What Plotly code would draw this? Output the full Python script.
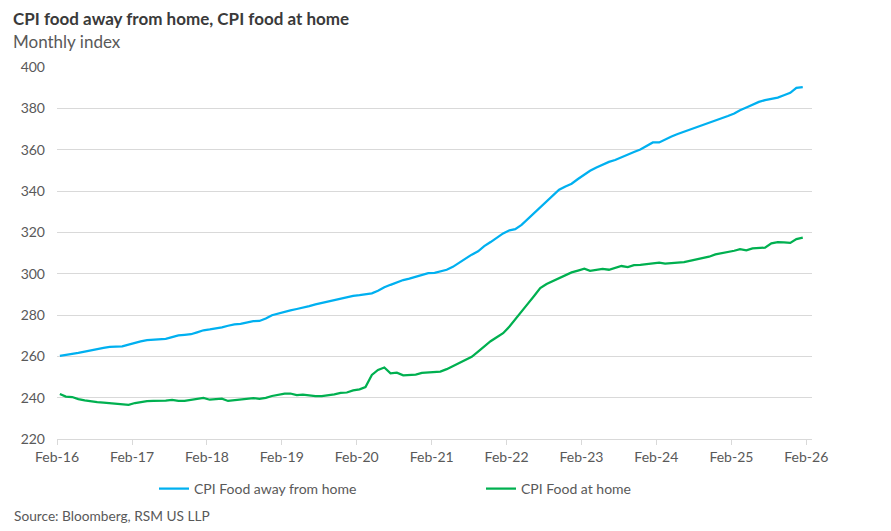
import pandas as pd
import plotly.graph_objects as go

# Monthly dates (Feb 2016 - Jan 2026), plotted mid-month
dates = pd.date_range("2016-02-01", periods=120, freq="MS") + pd.Timedelta(days=14)

food_away = [
    260.2, 260.8, 261.3, 261.7, 262.3, 263.0, 263.6, 264.1, 264.6, 264.6, 264.8, 265.7,
    266.6, 267.2, 267.8, 268.1, 268.2, 268.5, 269.3, 270.1, 270.4, 270.7, 271.6, 272.6,
    273.0, 273.4, 274.0, 274.8, 275.5, 275.7, 276.2, 277.0, 277.1, 278.3, 279.9, 280.8,
    281.6, 282.2, 282.9, 283.5, 284.3, 285.1, 285.8, 286.5, 287.0, 287.6, 288.5, 289.3,
    289.6, 290.0, 290.5, 291.7, 293.4, 294.6, 295.8, 296.9, 297.6, 298.4, 299.4, 300.3,
    300.4, 301.0, 301.9, 303.3, 305.4, 307.5, 309.2, 310.8, 313.3, 315.3, 317.3, 319.5,
    321.0, 321.5, 323.6, 326.4, 329.4, 332.3, 335.1, 338.0, 340.6, 342.2, 343.5, 345.8,
    348.1, 349.8, 351.4, 352.9, 354.1, 355.0, 356.4, 357.8, 358.9, 360.1, 361.6, 363.5,
    363.5, 365.0, 366.4, 367.6, 368.7, 369.5, 370.6, 371.9, 372.8, 373.8, 375.0, 376.3,
    377.5, 379.1, 380.4, 381.8, 383.1, 384.0, 384.7, 385.2, 386.3, 387.5, 389.9, 390.3,
]

food_home = [
    241.8, 240.5, 240.3, 239.3, 238.7, 238.1, 237.8, 237.6, 237.4, 237.1, 237.0, 236.5,
    237.4, 237.9, 238.3, 238.5, 238.5, 238.6, 238.9, 238.4, 238.5, 238.9, 239.2, 239.9,
    239.0, 239.1, 239.5, 238.4, 238.8, 239.2, 239.5, 239.8, 239.4, 239.9, 240.8, 241.4,
    242.0, 242.0, 241.2, 241.5, 241.1, 240.8, 240.8, 241.1, 241.6, 242.3, 242.5, 243.5,
    244.0, 245.1, 251.0, 253.4, 254.6, 251.8, 252.1, 250.8, 251.0, 251.2, 252.0, 252.1,
    252.4, 252.6, 253.8, 255.2, 256.7, 258.2, 259.8, 262.3, 264.9, 267.3, 269.2, 271.2,
    274.4, 278.0, 281.5, 285.4, 289.2, 293.0, 295.0, 296.4, 297.8, 299.5, 300.6, 301.5,
    302.4, 301.4, 301.8, 302.3, 301.9, 302.9, 303.7, 303.2, 304.1, 304.2, 304.6, 305.1,
    305.3, 304.9, 305.0, 305.4, 305.6, 306.2, 306.7, 307.4, 308.2, 309.3, 309.8, 310.5,
    311.1, 311.9, 311.3, 312.2, 312.3, 312.6, 314.7, 315.3, 315.1, 314.9, 316.7, 317.4,
]

series_names = ["CPI Food away from home", "CPI Food at home"]
tick_dates = pd.date_range("2016-02-01", periods=11, freq="12MS")
tick_labels = ["Feb-16", "Feb-17", "Feb-18", "Feb-19", "Feb-20", "Feb-21",
               "Feb-22", "Feb-23", "Feb-24", "Feb-25", "Feb-26"]

FONT = "Lato"
GREY = "#595959"
GRID = "#d9d9d9"

fig = go.Figure()
fig.add_trace(go.Scatter(x=dates, y=food_away, mode="lines", name=series_names[0],
                         line=dict(color="#00B0F0", width=2.25), legend="legend"))
fig.add_trace(go.Scatter(x=dates, y=food_home, mode="lines", name=series_names[1],
                         line=dict(color="#00B050", width=2.25), legend="legend2"))

fig.update_layout(
    width=883, height=523,
    margin=dict(l=49, r=79, t=59, b=92),
    paper_bgcolor="white", plot_bgcolor="white",
    font=dict(family=FONT, color=GREY, size=13),
    showlegend=True,
    legend=dict(orientation="h", x=(154 - 57) / 755, xanchor="left",
                y=(439 - 489) / 372, yanchor="middle",
                font=dict(size=14, color=GREY, family=FONT), bgcolor="rgba(0,0,0,0)"),
    legend2=dict(orientation="h", x=(481 - 57) / 755, xanchor="left",
                 y=(439 - 489) / 372, yanchor="middle",
                 font=dict(size=14, color=GREY, family=FONT), bgcolor="rgba(0,0,0,0)"),
    xaxis=dict(type="date", range=["2016-02-01", "2026-03-01"],
               tickvals=tick_dates, ticktext=tick_labels,
               showgrid=False, showline=True, linecolor=GRID, linewidth=1,
               ticks="outside", ticklen=5, tickcolor=GRID, tickwidth=1,
               tickfont=dict(size=14, color=GREY, family=FONT), zeroline=False),
    yaxis=dict(range=[220, 400], dtick=20, tick0=220, showgrid=True, gridcolor=GRID,
               gridwidth=1, zeroline=False, showline=False, ticks="",
               ticklabelstandoff=11,
               tickfont=dict(size=14, color=GREY, family=FONT)),
    annotations=[
        dict(text="<b>CPI food away from home, CPI food at home</b>", xref="paper", yref="paper",
             x=(12 - 57) / 755, y=(439 - 19) / 372, xanchor="left", yanchor="middle",
             borderpad=0,
             showarrow=False, font=dict(size=17, color="#3a3a3a", family=FONT)),
        dict(text="Monthly index", xref="paper", yref="paper",
             x=(12 - 57) / 755, y=(439 - 41) / 372, xanchor="left", yanchor="middle",
             borderpad=0,
             showarrow=False, font=dict(size=17, color=GREY, family=FONT)),
        dict(text="Source: Bloomberg, RSM US LLP", xref="paper", yref="paper",
             x=(12 - 57) / 755, y=(439 - 515) / 372, xanchor="left", yanchor="middle",
             showarrow=False, font=dict(size=13.7, color=GREY, family=FONT)),
    ],
)

fig.write_html("out.html")
